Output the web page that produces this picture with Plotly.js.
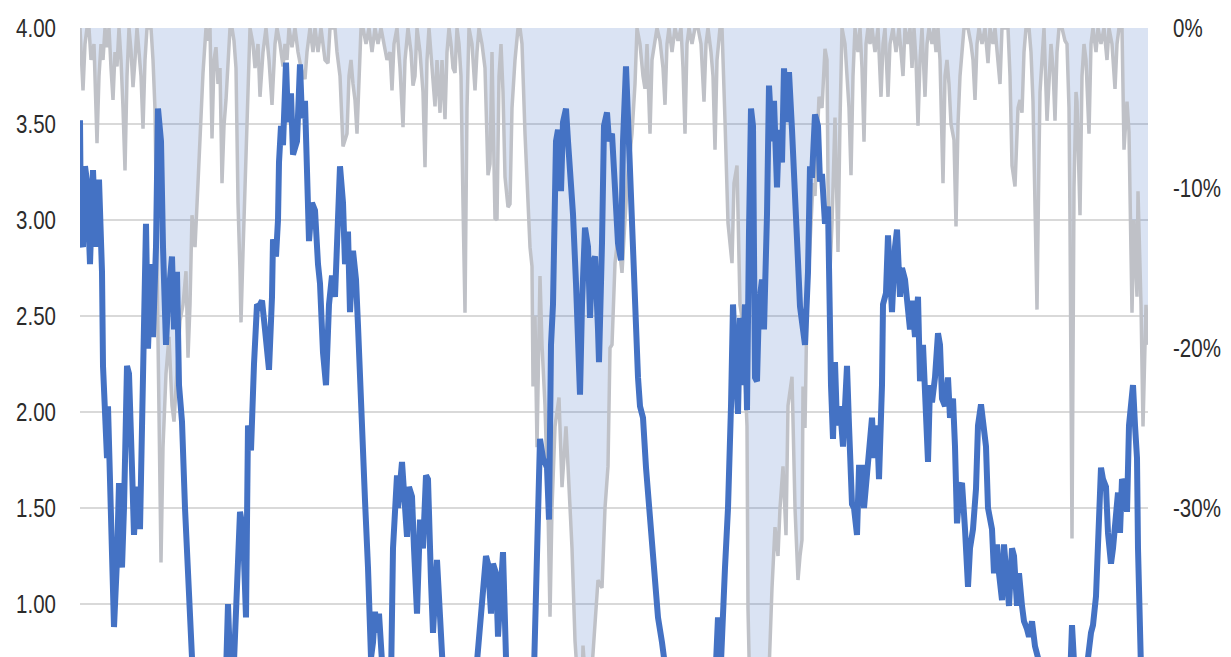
<!DOCTYPE html>
<html>
<head>
<meta charset="utf-8">
<script src="https://cdn.plot.ly/plotly-3.0.1.min.js"></script>
<style>
html, body { margin: 0; padding: 0; background: #ffffff; overflow: hidden; }
#chart { width: 1231px; height: 700px; }
</style>
</head>
<body>
<div id="chart"></div>
<script>
// ---- Data (time index in weeks) ----
var ratioWeek = [80,81,83,85,87,90,93,96,99,102,103,105,107,108,110,112,114,117,119,122,124,127,129,132,134,136,138,140,143,146,148,151,153,156,158,161,163,166,168,172,174,177,179,182,185,188,192,195,225,228,231,234,237,240,243,246,248,251,254,257,259,262,265,269,272,273,276,278,279,281,283,286,288,291,293,297,300,302,305,308,309,312,315,318,320,323,326,329,332,335,338,340,343,345,348,350,353,356,358,360,362,365,368,371,373,375,377,379,382,386,391,393,397,398,402,404,407,409,412,414,417,420,423,426,428,431,433,437,439,442,445,451,453,456,470,477,482,486,488,491,493,496,498,501,503,506,509,533,537,540,543,547,549,551,553,556,558,561,563,566,568,571,573,576,578,580,582,585,588,590,592,595,598,599,602,604,607,609,612,615,618,621,623,626,628,630,632,635,638,640,643,646,648,651,654,658,662,664,668,714,718,721,725,728,731,733,736,738,740,742,745,747,749,751,753,755,757,759,762,764,767,769,772,774,777,779,782,784,787,789,792,794,797,800,802,805,808,810,812,815,818,820,822,825,828,829,831,833,835,837,840,843,847,849,852,854,857,859,862,864,867,869,872,874,877,879,882,883,886,888,890,892,895,897,900,902,905,908,910,912,915,918,920,923,925,928,930,932,935,938,940,942,945,948,950,953,955,957,960,962,965,968,970,973,976,978,981,983,986,988,992,994,997,999,1002,1004,1007,1009,1012,1014,1017,1019,1022,1024,1027,1029,1032,1035,1038,1042,1069,1072,1074,1078,1086,1088,1091,1093,1096,1098,1101,1103,1106,1108,1111,1113,1116,1118,1120,1122,1125,1127,1129,1132,1133,1135,1137,1138,1140,1142];
var ratioValue = [3.52,2.90,2.86,3.28,3.20,2.77,3.26,2.86,3.21,2.73,2.24,2.00,1.76,2.03,1.71,1.25,0.88,1.23,1.63,1.19,1.50,2.24,2.20,1.71,1.36,1.55,1.61,1.39,2.45,2.98,2.33,2.77,2.39,2.86,3.58,3.41,2.86,2.35,2.58,2.81,2.43,2.73,2.14,1.95,1.50,1.08,0.72,0.45,0.45,1.00,0.55,0.70,1.12,1.48,1.39,0.93,1.93,1.80,2.25,2.56,2.55,2.58,2.43,2.22,2.60,2.90,2.81,3.00,3.30,3.49,3.39,3.82,3.51,3.66,3.34,3.41,3.81,3.53,3.62,3.09,2.89,3.09,3.05,2.77,2.67,2.31,2.14,2.56,2.71,2.60,2.94,3.28,3.09,2.77,2.94,2.52,2.84,2.69,2.45,2.14,1.90,1.54,1.19,0.72,0.80,0.96,0.85,0.95,0.70,0.45,0.60,1.29,1.67,1.50,1.74,1.54,1.35,1.61,1.56,1.29,0.95,1.44,1.29,1.67,1.65,1.12,0.85,1.23,1.05,0.72,0.45,0.55,0.70,0.50,0.45,0.70,0.97,1.25,1.21,0.95,1.21,1.16,0.83,1.04,1.27,0.72,0.45,0.45,1.42,1.86,1.76,1.71,1.44,2.35,2.56,3.41,3.47,3.15,3.51,3.58,3.41,3.20,3.03,2.67,2.24,2.09,2.56,2.96,2.86,2.49,2.77,2.81,2.43,2.26,2.88,3.49,3.56,3.41,3.45,3.20,2.88,2.79,3.41,3.80,3.51,3.15,2.86,2.52,2.18,2.03,1.97,1.71,1.58,1.39,1.12,0.93,0.80,0.72,0.45,0.45,0.93,0.70,1.19,1.50,2.03,2.56,2.18,1.99,2.49,2.14,2.56,2.01,2.94,3.58,3.49,2.18,2.16,2.56,2.69,2.43,3.03,3.70,3.41,3.62,3.17,3.47,3.30,3.79,3.51,3.77,3.47,3.15,2.90,2.55,2.45,2.35,2.73,3.28,3.22,3.55,3.49,3.20,3.24,2.98,3.07,2.56,2.14,1.86,2.26,1.93,2.03,1.82,2.24,1.93,1.52,1.50,1.36,1.71,1.71,1.50,1.69,1.84,1.97,1.76,1.93,1.65,2.14,2.56,2.62,2.92,2.77,2.52,2.86,2.95,2.60,2.75,2.69,2.56,2.43,2.58,2.39,2.60,2.16,2.35,2.14,1.74,2.14,2.05,2.18,2.41,2.35,2.07,2.03,2.18,1.97,2.07,1.82,1.42,1.61,1.63,1.39,1.09,1.29,1.39,1.60,1.93,2.04,1.97,1.82,1.50,1.39,1.16,1.31,1.16,1.02,1.31,1.04,0.99,1.29,1.25,0.99,1.16,0.99,0.91,0.87,0.83,0.91,0.78,0.72,0.45,0.45,0.89,0.70,0.45,0.50,0.72,0.85,0.89,1.04,1.39,1.71,1.65,1.61,1.37,1.21,1.29,1.50,1.58,1.37,1.65,1.61,1.48,1.93,2.07,2.14,1.93,1.76,1.29,0.72,0.45];

var ddWeek = [80,81,83,85,87,89,91,94,97,99,101,103,105,107,109,111,113,115,117,119,121,123,125,127,129,131,133,135,137,139,141,143,145,147,149,151,153,155,157,159,161,163,166,169,172,174,177,180,183,186,188,190,192,195,198,201,203,206,208,210,212,214,216,218,220,222,224,226,228,230,232,234,236,238,240,241,243,245,246,248,250,253,255,258,260,263,266,269,272,275,277,280,283,285,287,289,292,295,298,301,305,307,310,313,315,318,321,323,325,328,330,333,335,337,340,343,345,347,349,351,353,355,357,359,361,363,366,369,372,375,378,381,384,387,390,392,394,397,400,403,405,408,411,413,415,417,420,423,425,427,429,431,433,435,437,440,442,445,447,449,451,453,455,457,459,461,463,465,467,469,472,475,477,479,482,485,488,490,492,495,497,499,501,503,505,508,510,512,515,518,520,522,525,528,530,532,533,535,537,540,542,545,548,550,552,555,559,562,566,568,572,575,578,581,583,586,588,592,595,598,602,605,608,610,612,615,618,622,625,628,632,635,637,640,643,645,647,650,652,655,657,660,663,665,667,669,672,675,678,681,683,685,687,689,692,695,698,701,704,706,708,711,713,715,717,720,722,725,728,732,734,737,740,743,747,748,750,755,760,765,768,772,775,778,780,783,786,788,792,795,798,800,802,803,805,807,810,813,815,817,819,822,825,827,828,830,832,835,838,840,842,845,847,849,851,853,855,858,860,862,864,866,868,870,872,875,878,881,883,885,888,890,893,896,899,901,903,905,908,910,912,914,916,918,920,922,925,927,929,932,934,936,938,940,943,945,947,949,951,954,956,958,960,962,964,966,968,971,973,975,977,979,982,985,988,990,993,995,998,1000,1002,1005,1008,1010,1012,1015,1018,1020,1022,1024,1026,1029,1031,1033,1035,1037,1039,1040,1042,1044,1047,1049,1051,1053,1055,1057,1059,1062,1065,1067,1069,1070,1072,1074,1076,1077,1080,1082,1084,1086,1089,1091,1093,1096,1098,1101,1104,1107,1109,1112,1115,1117,1119,1122,1124,1127,1129,1132,1134,1137,1138,1141,1143,1146,1148];
var ddValue = [0,-1.5,-3.9,-1.0,0,0,-2.0,-1.0,-7.2,-3.0,-1.0,-2.0,0,-1.2,0,-2.5,-4.5,-1.5,-2.4,0,-2.0,-5.0,-8.9,-3.0,0,-1.4,-3.7,-2.0,0,-1.5,-3.0,-6.3,-2.0,0,0,0,-2.0,-5.1,-14.7,-26.2,-33.4,-26.2,-21.6,-19.3,-23.6,-24.6,-21.1,-18.3,-17.3,-15.2,-20.6,-17.3,-11.7,-13.7,-9.7,-5.3,-2.8,0,-0.8,0,-6.9,-2.0,-1.2,-3.5,-2.5,-9.7,-6.1,-4.5,-2.5,0,0,-0.8,-2.5,-10.9,-15.2,-18.4,-14.0,-10.0,-8.0,-4.0,0,-1.0,-2.5,-1.0,-4.3,-1.5,0,-2.0,-4.8,-1.0,0,-1.0,-2.4,-1.0,-2.0,0,-1.2,0,-1.5,-2.5,-3.2,-1.5,0,-1.5,0,-1.5,0,-1.0,-2.0,-2.2,0,0,0,-1.5,-3.0,-7.4,-7.0,-6.6,-3.0,-2.0,-3.5,-4.5,-6.6,-3.0,0,0,-1.0,0,-1.5,0,-1.0,0,-1.0,-2.0,-1.5,-3.9,-1.0,0,-2.5,-6.2,-2.0,0,-1.5,-3.6,-3.0,0,-1.5,-4.0,-8.7,-2.0,0,-1.5,-3.0,-4.9,-2.0,-5.3,-2.0,-5.7,-1.5,0,-1.0,-2.5,-2.8,0,-1.0,-3.0,-11.0,-17.8,-5.0,0,-1.0,-3.9,-1.5,0,-1.0,-2.5,-9.2,-8.5,-1.5,-11.9,-12.0,-3.0,-1.0,-4.0,-9.3,-11.2,-11.0,-5.0,-2.0,0,0,-1.0,-6.6,-10.8,-13.7,-14.9,-22.4,-18.0,-26.2,-15.5,-19.8,-23.6,-30.0,-36.8,-30.0,-24.9,-23.1,-28.7,-24.9,-27.4,-32.5,-38.3,-41.0,-44.0,-38.6,-41.0,-43.0,-40.0,-37.0,-34.5,-35.0,-30.0,-27.4,-20.0,-19.8,-14.7,-13.0,-15.3,-12.0,-9.0,-6.6,-3.5,0,-1.0,-3.0,-3.8,-1.0,-6.6,-2.0,-0.8,0,-0.8,-2.5,-4.8,-1.0,0,-1.5,0,-0.8,0,-2.5,-6.6,-1.0,0,-1.0,0,0,-1.0,-4.6,-1.0,0,-1.5,-3.0,-7.6,-2.0,0,0,-5.8,-12.2,-14.7,-9.7,-8.6,-17.3,-18.5,-24.9,-36.3,-42.0,-45.0,-45.0,-44.0,-42.0,-35.0,-31.2,-33.0,-30.0,-27.4,-31.7,-23.6,-21.8,-30.0,-34.5,-33.0,-32.0,-22.4,-25.0,-17.3,-13.7,-9.7,-10.5,-7.1,-4.3,-5.0,-1.3,-2.0,-9.7,-15.2,-12.2,-5.6,-14.0,-5.8,0,-1.0,-3.3,-5.0,-9.2,-3.0,0,-1.5,0,-2.5,-7.1,-1.0,0,-1.0,0,-1.5,0,-4.3,-1.0,0,-4.3,-1.0,0,-1.5,0,-1.5,-3.0,0,-1.0,0,-2.5,0,-2.0,-6.1,-2.0,0,-4.3,-1.0,0,-1.0,0,-1.5,0,-2.0,-9.7,-3.0,-2.0,-3.5,-6.0,-7.0,-12.4,-6.0,-3.0,-1.5,0,0,0,-1.0,-2.0,-4.5,-1.0,0,-1.0,0,-2.2,0,-1.0,0,-2.0,-3.5,0,0,0,-3.0,-8.6,-9.9,-5.0,-4.5,-5.3,-1.5,0,0,-1.5,-4.6,-10.0,-17.6,-8.0,-4.0,-2.0,0,-5.8,-3.0,-1.0,-2.5,-5.8,-1.5,0,0,-0.8,-1.0,-5.0,-12.2,-31.9,-10.0,-4.0,-4.6,-11.7,-3.0,-1.0,-2.0,-6.6,-1.0,0,-1.5,0,-1.0,0,-2.0,0,-1.0,-3.8,-1.0,0,0,-7.6,-4.6,-6.5,-17.8,-12.0,-16.8,-10.2,-17.3,-24.9,-17.3,-19.8];

var ratioTicks = [1.0,1.5,2.0,2.5,3.0,3.5,4.0];
var ddTickVals = [0,-10,-20,-30,-40];
var ddTickText = ['0%','-10%','-20%','-30%','-40%'];

var fontFamily = '"Liberation Sans", Arial, sans-serif';
var tickFont = {family: fontFamily, size: 25, color: '#2b2b2b'};

var traces = [
  {
    x: ddWeek, y: ddValue, type: 'scatter', mode: 'lines',
    xaxis: 'x', yaxis: 'y',
    line: {color: '#bfc1c7', width: 3.5},
    fill: 'tozeroy', fillcolor: 'rgba(68,114,196,0.2)',
    hoverinfo: 'skip'
  },
  {
    x: ratioWeek, y: ratioValue, type: 'scatter', mode: 'lines',
    xaxis: 'x', yaxis: 'y2',
    line: {color: '#4472c4', width: 6},
    hoverinfo: 'skip'
  }
];

var layout = {
  width: 1231, height: 700,
  margin: {l: 80, r: 83, t: 28, b: 0, pad: 0},
  paper_bgcolor: '#ffffff', plot_bgcolor: '#ffffff',
  showlegend: false,
  font: tickFont,
  xaxis: {range: [80, 1148], visible: false},
  yaxis: {
    side: 'right', range: [-42, 0],
    tickvals: ddTickVals, ticktext: ddTickText,
    showgrid: false, zeroline: false, showline: false,
    ticks: 'outside', ticklen: 19, tickcolor: 'rgba(0,0,0,0)',
    tickfont: tickFont
  },
  yaxis2: {
    overlaying: 'y', side: 'left', range: [0.5, 4.0],
    tickvals: ratioTicks, tickformat: '.2f',
    showgrid: true, gridcolor: '#d9d9d9', gridwidth: 1.5,
    zeroline: false, showline: false,
    ticks: 'outside', ticklen: 18, tickcolor: 'rgba(0,0,0,0)',
    tickfont: tickFont
  }
};

Plotly.newPlot('chart', traces, layout, {staticPlot: true, displayModeBar: false}).then(function (gd) {
  // The reference's tick labels are set in a narrow face: condense the glyphs horizontally.
  var texts = gd.querySelectorAll('g.ytick text, g.y2tick text');
  texts.forEach(function (t) {
    var w = t.getComputedTextLength();
    if (w > 0) {
      t.setAttribute('textLength', (w * 0.82).toFixed(1));
      t.setAttribute('lengthAdjust', 'spacingAndGlyphs');
    }
  });
});
</script>
</body>
</html>
